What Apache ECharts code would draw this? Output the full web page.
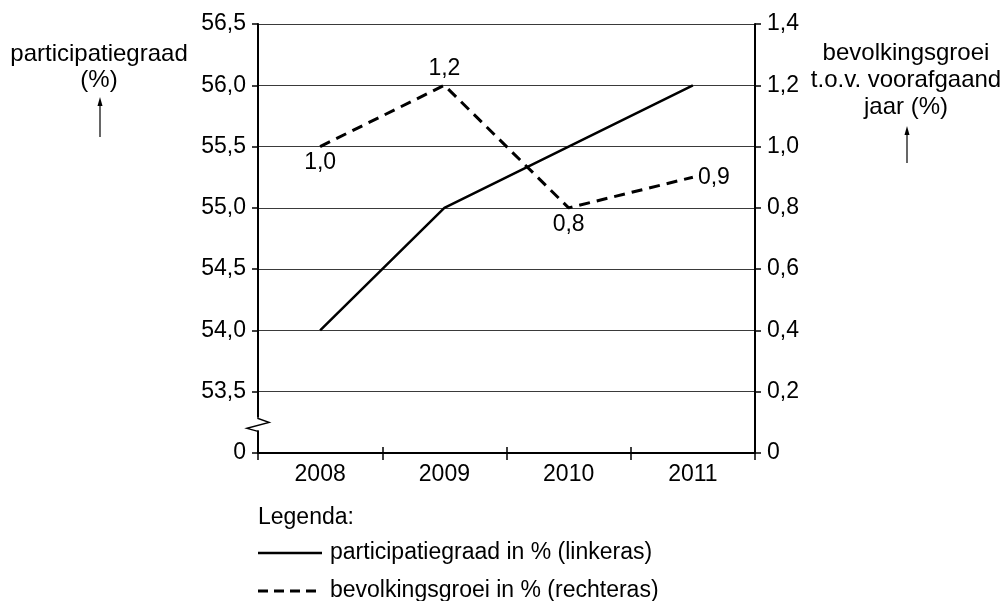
<!DOCTYPE html>
<html>
<head>
<meta charset="utf-8">
<script src="https://cdn.jsdelivr.net/npm/echarts@6/dist/echarts.min.js"></script>
<style>
  html, body { margin: 0; padding: 0; background: #fff; }
  #chart { width: 1003px; height: 601px; }
</style>
</head>
<body>
<div id="chart"></div>
<script>
// ---- data ----
const years = ['2008', '2009', '2010', '2011'];
const participatiegraad = [54.0, 55.0, 55.5, 56.0];
const bevolkingsgroei = [1.0, 1.2, 0.8, 0.9];
const leftTickLabels = ['0', '53,5', '54,0', '54,5', '55,0', '55,5', '56,0', '56,5'];
const rightTickLabels = ['0', '0,2', '0,4', '0,6', '0,8', '1,0', '1,2', '1,4'];
const seriesNames = ['participatiegraad in % (linkeras)', 'bevolkingsgroei in % (rechteras)'];
const labelPositions = ['bottom', 'top', 'bottom', 'right'];

// ---- layout ----
const FONT = '"Liberation Sans", Arial, sans-serif';
const GRID_LEFT = 258, GRID_RIGHT = 248, GRID_TOP = 24, GRID_BOTTOM = 148;
const FS = 23;

const chart = echarts.init(document.getElementById('chart'), null, { renderer: 'canvas' });

const commonYAxis = {
  type: 'value',
  axisLine: { show: true, lineStyle: { color: '#000', width: 2 } },
  axisTick: { show: true, length: 6, lineStyle: { color: '#000', width: 1.5 } },
  axisLabel: { margin: 12, fontSize: FS, color: '#000', fontFamily: FONT }
};

const option = {
  animation: false,
  backgroundColor: '#fff',
  textStyle: { fontFamily: FONT, color: '#000' },
  grid: { left: GRID_LEFT, right: GRID_RIGHT, top: GRID_TOP, bottom: GRID_BOTTOM },
  xAxis: [
    {
      type: 'category', data: years, boundaryGap: true, position: 'bottom',
      axisLine: { show: true, lineStyle: { color: '#000', width: 2 } },
      axisTick: { show: true, length: 7, lineStyle: { color: '#000', width: 1.5 } },
      axisLabel: { margin: 10, fontSize: FS, color: '#000', fontFamily: FONT }
    },
    {
      type: 'category', data: years, boundaryGap: true, position: 'bottom',
      axisLine: { show: false },
      axisTick: { show: true, inside: true, length: 6, lineStyle: { color: '#000', width: 1.5 } },
      axisLabel: { show: false }
    }
  ],
  yAxis: [
    Object.assign({}, commonYAxis, {
      position: 'left', min: 53, max: 56.5, interval: 0.5,
      axisLabel: Object.assign({}, commonYAxis.axisLabel, {
        formatter: (v, i) => leftTickLabels[i]
      }),
      splitLine: { show: true, lineStyle: { color: '#3a3a3a', width: 1 } }
    }),
    Object.assign({}, commonYAxis, {
      position: 'right', min: 0, max: 1.4, interval: 0.2,
      axisLabel: Object.assign({}, commonYAxis.axisLabel, {
        formatter: (v, i) => rightTickLabels[i]
      }),
      splitLine: { show: false }
    })
  ],
  series: [
    {
      name: seriesNames[0], type: 'line', yAxisIndex: 0, xAxisIndex: 0,
      data: participatiegraad, symbol: 'none',
      lineStyle: { color: '#000', width: 2.5, type: 'solid' },
      itemStyle: { color: '#000' }
    },
    {
      name: seriesNames[1], type: 'line', yAxisIndex: 1, xAxisIndex: 0,
      data: bevolkingsgroei.map((v, i) => ({
        value: v,
        label: { position: labelPositions[i] }
      })),
      symbol: 'circle', symbolSize: 0, showSymbol: true,
      lineStyle: { color: '#000', width: 3, type: [11, 7] },
      itemStyle: { color: '#000' },
      label: {
        show: true, distance: 5, fontSize: FS, color: '#000', fontFamily: FONT,
        formatter: p => p.value.toFixed(1).replace('.', ',')
      }
    }
  ]
};

chart.setOption(option);

// ---- decorations: titles, arrows, legend, axis break ----
function arrow(x, yTip, yEnd) {
  return {
    type: 'group', z: 100,
    children: [
      { type: 'line', shape: { x1: x, y1: yTip + 6, x2: x, y2: yEnd }, style: { stroke: '#000', lineWidth: 1.2 } },
      { type: 'polygon', shape: { points: [[x, yTip], [x - 2.5, yTip + 9], [x + 2.5, yTip + 9]] }, style: { fill: '#000' } }
    ]
  };
}

const y535 = chart.convertToPixel({ yAxisIndex: 0 }, 53.5);
const y530 = chart.convertToPixel({ yAxisIndex: 0 }, 53);
const mid = (y535 + y530) / 2;
const ax = GRID_LEFT;

const legendRows = [
  { y: 553, dash: null, width: 2.5 },
  { y: 591, dash: [10, 6], width: 3 }
];

const legendGraphics = [];
legendRows.forEach((r, i) => {
  legendGraphics.push({
    type: 'line', z: 100,
    shape: { x1: GRID_LEFT, y1: r.y, x2: GRID_LEFT + 64, y2: r.y },
    style: { stroke: '#000', lineWidth: r.width, lineDash: r.dash }
  });
  legendGraphics.push({
    type: 'text', z: 100, x: GRID_LEFT + 72, y: r.y,
    style: { text: seriesNames[i], textAlign: 'left', textVerticalAlign: 'middle',
             font: FS + 'px ' + FONT, fill: '#000' }
  });
});

chart.setOption({
  graphic: [
    {
      type: 'text', z: 100, x: 99, y: 67,
      style: { text: 'participatiegraad\n(%)', textAlign: 'center', textVerticalAlign: 'middle',
               font: '24px ' + FONT, fill: '#000', lineHeight: 26 }
    },
    {
      type: 'text', z: 100, x: 906, y: 80,
      style: { text: 'bevolkingsgroei\nt.o.v. voorafgaand\njaar (%)', textAlign: 'center', textVerticalAlign: 'middle',
               font: '24px ' + FONT, fill: '#000', lineHeight: 27 }
    },
    arrow(100, 97, 137),
    arrow(907, 126, 163),
    {
      type: 'text', z: 100, x: GRID_LEFT, y: 518,
      style: { text: 'Legenda:', textAlign: 'left', textVerticalAlign: 'middle',
               font: FS + 'px ' + FONT, fill: '#000' }
    },
    {
      type: 'rect', z: 100,
      shape: { x: ax - 3, y: mid - 5, width: 6, height: 13 },
      style: { fill: '#fff' }
    },
    {
      type: 'polyline', z: 101,
      shape: { points: [[ax, mid - 5], [ax, mid - 4], [ax + 11, mid], [ax - 11, mid + 6], [ax, mid + 9]] },
      style: { stroke: '#000', lineWidth: 1.5, fill: null }
    }
  ].concat(legendGraphics)
});
</script>
</body>
</html>
